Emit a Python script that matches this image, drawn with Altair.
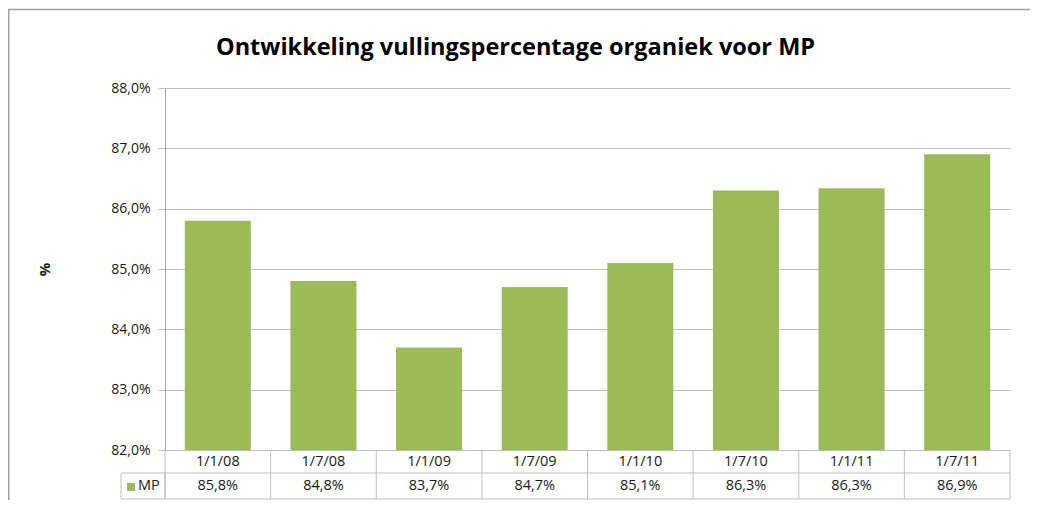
import altair as alt
import pandas as pd

# ---- data -------------------------------------------------------------
categories = ["1/1/08", "1/7/08", "1/1/09", "1/7/09", "1/1/10", "1/7/10", "1/1/11", "1/7/11"]
values = [85.8, 84.8, 83.7, 84.7, 85.1, 86.3, 86.34, 86.9]
y_ticks = [82, 83, 84, 85, 86, 87, 88]
series_name = "MP"
title_text = "Ontwikkeling vullingspercentage organiek voor MP"
y_title = "%"

# ---- styling ----------------------------------------------------------
W, H = 845, 362
GREEN = "#9BBB59"
GRID = "#BFBFBF"
AXIS = "#A6A6A6"
FONT = "Open Sans"
TXT = "#1a1a1a"
ROW1, ROW2 = 23, 49  # table row bottoms below plot
PAD = {"left": 157, "top": 80, "right": 20, "bottom": 50}

n = len(categories)
df = pd.DataFrame({"cat": categories, "val": values, "idx": list(range(n))})

xscale = alt.Scale(domain=[0, n], nice=False, zero=False)
yscale = alt.Scale(domain=[y_ticks[0], y_ticks[-1]], nice=False, zero=False)

base = alt.Chart(df)

bars = base.transform_calculate(
    x0="datum.idx + 0.1875", x1="datum.idx + 0.8125"
).mark_rect(color=GREEN).encode(
    x=alt.X("x0:Q", scale=xscale, axis=None),
    x2="x1:Q",
    y=alt.Y(
        "val:Q",
        scale=yscale,
        axis=alt.Axis(
            values=y_ticks,
            labelExpr="replace(format(datum.value, '.1f'), '.', ',') + '%'",
            grid=True,
            gridColor=GRID,
            domainColor=AXIS,
            tickColor=GRID,
            tickSize=7,
            labelPadding=8,
            labelFont=FONT,
            labelFontSize=14,
            labelColor=TXT,
            title=y_title,
            titleAngle=270,
            titleX=-113,
            titleY=H / 2,
            titleFont=FONT,
            titleFontSize=15,
            titleFontWeight="bold",
            titleColor=TXT,
        ),
    ),
    y2=alt.datum(y_ticks[0]),
)

# table vertical lines (column boundaries via x scale)
vlines = alt.Chart(alt.sequence(0, n + 1, as_="b")).mark_rule(color=GRID, strokeWidth=1).encode(
    x=alt.X("b:Q", scale=xscale),
    y=alt.value(H),
    y2=alt.value(H + ROW2),
)

one = alt.Chart(pd.DataFrame({"k": [0]}))
hline1 = one.mark_rule(color=GRID).encode(x=alt.value(0), x2=alt.value(W), y=alt.value(H + ROW1))
hline2 = one.mark_rule(color=GRID).encode(x=alt.value(0), x2=alt.value(W), y=alt.value(H + ROW2))
legend_box = one.mark_rect(filled=False, stroke=GRID, strokeWidth=1).encode(
    x=alt.value(-44), x2=alt.value(0), y=alt.value(H + ROW1), y2=alt.value(H + ROW2)
)
legend_sq = one.mark_square(color=GREEN, size=64, opacity=1).encode(
    x=alt.value(-34), y=alt.value(H + 37)
)
legend_txt = one.mark_text(align="left", baseline="middle", font=FONT, fontSize=14.5, color=TXT).encode(
    x=alt.value(-27), y=alt.value(H + 36), text=alt.value(series_name)
)

cat_text = base.transform_calculate(xc="datum.idx + 0.5").mark_text(
    baseline="middle", font=FONT, fontSize=14.5, color=TXT
).encode(
    x=alt.X("xc:Q", scale=xscale),
    y=alt.value(H + 12),
    text="cat:N",
)

val_text = base.transform_calculate(
    xc="datum.idx + 0.5",
    label="replace(format(datum.val, '.1f'), '.', ',') + '%'",
).mark_text(baseline="middle", font=FONT, fontSize=14.5, color=TXT).encode(
    x=alt.X("xc:Q", scale=xscale),
    y=alt.value(H + 36),
    text="label:N",
)

title = one.mark_text(
    align="center", baseline="middle", font=FONT, fontSize=23.5, fontWeight="bold", color="black"
).encode(x=alt.value(W / 2 - 72), y=alt.value(-40), text=alt.value(title_text))

# outer chart frame: only top and left edges are within the picture
frame_top = one.mark_rule(color="#A0A0A0", strokeWidth=1.5).encode(
    x=alt.value(-PAD["left"]), x2=alt.value(W + PAD["right"]), y=alt.value(-78.5)
)
frame_left = one.mark_rule(color="#A0A0A0", strokeWidth=1.5).encode(
    x=alt.value(-PAD["left"] + 0.75), y=alt.value(-79), y2=alt.value(H + PAD["bottom"])
)

chart = alt.layer(
    frame_top, frame_left, bars, vlines, hline1, hline2, legend_box, legend_sq, legend_txt,
    cat_text, val_text, title,
).properties(
    width=W,
    height=H,
    padding=PAD,
    autosize=alt.AutoSizeParams(type="none"),
).configure_view(stroke=None)

chart.save("out.html", embed_options={"renderer": "svg", "actions": False})
